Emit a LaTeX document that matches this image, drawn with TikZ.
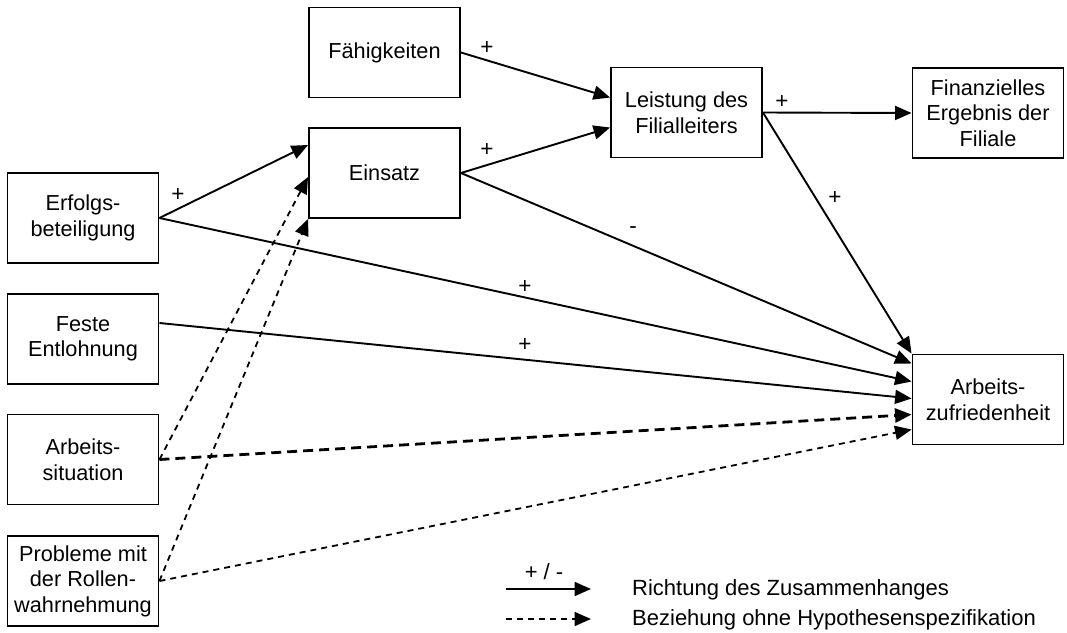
\documentclass[tikz,border=0pt]{standalone}
\usepackage{fontspec}
\setmainfont{Liberation Sans}
\usetikzlibrary{arrows.meta,calc}
\tikzset{
  box/.style={draw,line width=1.9pt,minimum width=151pt,minimum height=90pt,inner sep=0pt,align=center,font=\fontsize{21.7}{25.5}\selectfont},
  lbl/.style={inner sep=0pt,font=\fontsize{22.5}{25.5}\selectfont},
  leg/.style={inner sep=0pt,font=\fontsize{22}{26}\selectfont},
  tip/.style={-{Triangle[length=16.5pt,width=14pt]}},
  conn/.style={line width=1.9pt,tip},
  dconn/.style={line width=1.8pt,dash pattern=on 6pt off 5pt,tip},
  tconn/.style={line width=2.8pt,dash pattern=on 10pt off 6pt,tip}
}
\begin{document}
\begin{tikzpicture}[x=1pt,y=-1pt]
\useasboundingbox (0,0) rectangle (1067,632);
\node[box] (fae) at (384.5,52.5) {Fähigkeiten};
\node[box] (ein) at (384.5,173) {Einsatz};
\node[box] (lei) at (686.5,112.5) {Leistung des\\Filialleiters};
\node[box] (fin) at (988,113) {Finanzielles\\Ergebnis der\\Filiale};
\node[box] (arb) at (988,399.5) {Arbeits-\\zufriedenheit};
\node[box] (erf) at (83,218) {Erfolgs-\\beteiligung};
\node[box] (fes) at (83,339) {Feste\\Entlohnung};
\node[box] (sit) at (83,459.5) {Arbeits-\\situation};
\node[box] (pro) at (83,581) {Probleme mit\\der Rollen-\\wahrnehmung};

\draw[conn] (fae.east) -- ($(lei.west)+(0,-15)$);
\draw[conn] (ein.east) -- ($(lei.west)+(0,15)$);
\draw[conn] (erf.east) -- ($(ein.west)+(0,-28)$);
\draw[conn] (lei.east) -- (fin.west);
\draw[conn] (lei.east) -- (arb.north west);
\draw[conn] (ein.east) -- ($(arb.west)+(0,-36)$);
\draw[conn] (erf.east) -- ($(arb.west)+(0,-18)$);
\draw[conn] ($(fes.east)+(0,-16)$) -- ($(arb.west)+(0,-1)$);
\draw[tconn] (sit.east) -- ($(arb.west)+(0,15)$);
\draw[dconn] (pro.east) -- ($(arb.west)+(0,30)$);
\draw[dconn] (sit.east) -- ($(ein.west)+(0,4)$);
\draw[dconn] (pro.east) -- (ein.south west);

\node[lbl] (l1) at (487,48) {+};
\node[lbl] (l2) at (487,150) {+};
\node[lbl] (l3) at (178,195) {+};
\node[lbl] (l4) at (633,230) {-};
\node[lbl] (l5) at (525,287) {+};
\node[lbl] (l6) at (525,345) {+};
\node[lbl] (l7) at (782,102) {+};
\node[lbl] (l8) at (835,198) {+};

\coordinate (la) at (506,589);
\coordinate (lb) at (591,589);
\coordinate (lc) at (506,619);
\coordinate (ld) at (591,619);
\draw[conn] (la) -- (lb);
\draw[dconn] (lc) -- (ld);
\node[leg] (lg0) at (544,572) {+ / -};
\node[leg,anchor=west] (lg1) at (632,590) {Richtung des Zusammenhanges};
\node[leg,anchor=west] (lg2) at (632,620) {Beziehung ohne Hypothesenspezifikation};
\end{tikzpicture}
\end{document}
